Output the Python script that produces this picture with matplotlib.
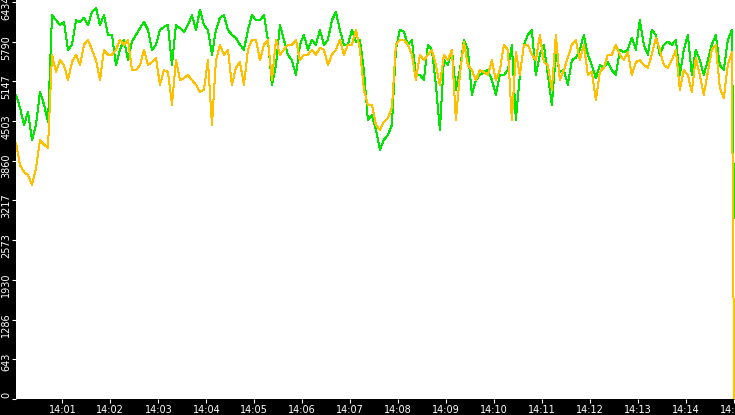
import matplotlib
matplotlib.use('Agg')
import matplotlib.pyplot as plt
import matplotlib.dates as mdates
import matplotlib.transforms as mtransforms
import pandas as pd

# samples every 5 s starting 14:00:02, plus a final sample at 14:15:00
start_time = '2024-01-01 14:00:02'
last_time = '2024-01-01 14:15:00'

green_values = [
    4930, 4720, 4440, 4650, 4200, 4440, 4980, 4770, 4490, 6220, 6140, 6060, 6110, 5660, 5740,
    6140, 6110, 6180, 6060, 6270, 6340, 6060, 6220, 5900, 5900, 5410, 5660, 5820, 5490, 5790,
    5900, 6010, 6110, 5980, 5660, 5740, 5980, 6030, 6060, 5410, 6060, 6010, 5950, 6060, 6220,
    5980, 6310, 6060, 5980, 5580, 5980, 6180, 6220, 5980, 5900, 5850, 5740, 5660, 5980, 6220,
    6140, 6140, 6220, 5820, 5090, 5410, 6060, 5820, 5580, 5490, 5250, 5740, 5900, 5660, 5820,
    5740, 5980, 5740, 5820, 6140, 6270, 5980, 5740, 5740, 5980, 5790, 5820, 5330, 4520, 4600,
    4360, 4040, 4200, 4280, 4440, 5660, 5980, 5950, 5740, 5820, 5250, 5250, 5170, 5740, 5660,
    5090, 4360, 5490, 5410, 5660, 5010, 5330, 5820, 5660, 4930, 5170, 5250, 5300, 5330, 5170,
    4930, 5250, 5250, 5330, 5740, 4520, 5250, 5740, 5900, 5980, 5250, 5580, 5740, 5250, 4770,
    5580, 5300, 5330, 5090, 5490, 5530, 5660, 5900, 5580, 5410, 5200, 5410, 5370, 5460, 5330,
    5250, 5660, 5620, 5660, 5850, 5660, 6140, 5740, 5580, 5980, 5900, 5580, 5740, 5790, 5740,
    5820, 5250, 5660, 5900, 5250, 5660, 5490, 5250, 5490, 5740, 5900, 5410, 5330, 5820, 5980,
]
green_last = 2930

orange_values = [
    4150, 3790, 3680, 3630, 3470, 3740, 4200, 4120, 4070, 5580, 5300, 5490, 5410, 5170, 5460,
    5580, 5410, 5740, 5820, 5660, 5490, 5170, 5660, 5580, 5580, 5660, 5820, 5740, 5820, 5330,
    5330, 5410, 5660, 5410, 5460, 5530, 5090, 5330, 5300, 4770, 5490, 5170, 5200, 5250, 5170,
    5090, 4980, 5010, 5490, 4440, 5490, 5740, 5580, 5660, 5090, 5370, 5460, 5090, 5660, 5820,
    5820, 5490, 5740, 5820, 5170, 5820, 5580, 5660, 5740, 5740, 5820, 5490, 5580, 5580, 5660,
    5580, 5690, 5660, 5410, 5580, 5660, 5820, 5580, 5740, 5740, 5980, 5660, 5010, 4770, 4770,
    4440, 4360, 4490, 4550, 4720, 5740, 5820, 5820, 5740, 5580, 5170, 5580, 5490, 5580, 5660,
    5410, 5090, 5580, 5490, 5660, 4520, 5250, 5790, 5410, 5330, 5170, 5330, 5300, 5250, 5490,
    5170, 5330, 5740, 5660, 4520, 5620, 5250, 5740, 5740, 5580, 5490, 5900, 5460, 5410, 5010,
    5900, 5170, 5330, 5530, 5740, 5820, 5490, 5740, 5250, 5300, 4850, 5300, 5370, 5580, 5580,
    5740, 5580, 5490, 5620, 5250, 5460, 5490, 5410, 5370, 5580, 5850, 5660, 5410, 5370, 5490,
    5660, 5010, 5330, 5250, 4980, 5530, 5250, 4930, 5300, 5660, 5740, 5040, 4880, 5410, 5620,
]
orange_last = 0

y_ticks = [0, 643, 1286, 1930, 2573, 3217, 3860, 4503, 5147, 5790, 6434]

times = pd.date_range(start_time, periods=len(green_values), freq='5s').append(
    pd.DatetimeIndex([last_time]))
green = green_values + [green_last]
orange = orange_values + [orange_last]

fig = plt.figure(figsize=(7.35, 4.15), dpi=100, facecolor='black')
ax = fig.add_axes([16 / 735, 16 / 415, 719 / 735, 399 / 415])
ax.set_facecolor('white')

ax.plot(times, green, color='#00e600', linewidth=0.72, antialiased=False)
ax.plot(times, orange, color='#ffc000', linewidth=0.72, antialiased=False)

ax.set_xlim(pd.Timestamp('2024-01-01 14:00:02'), pd.Timestamp('2024-01-01 14:15:01'))
ax.set_ylim(0, 6466)
ax.set_yticks(y_ticks)
ax.set_yticklabels([str(v) for v in y_ticks])
ax.xaxis.set_major_locator(mdates.MinuteLocator())
ax.xaxis.set_major_formatter(mdates.DateFormatter('%H:%M'))

for s in ax.spines.values():
    s.set_visible(False)

ax.tick_params(direction='out', length=3, width=0.8, color='white',
               labelcolor='white', labelsize=7, pad=1)
ax.tick_params(axis='y', pad=0.5)

shift = mtransforms.ScaledTranslation(0, 5 / 72, fig.dpi_scale_trans)
for lab in ax.get_yticklabels():
    lab.set_rotation(90)
    lab.set_va('top')
    lab.set_transform(lab.get_transform() + shift)

fig.savefig('out.png', dpi=100, facecolor='black')
